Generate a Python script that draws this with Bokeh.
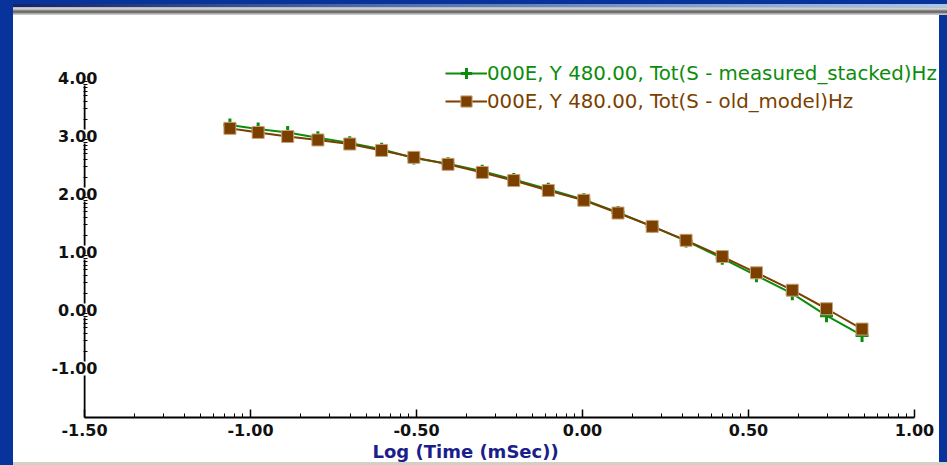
import numpy as np
from bokeh.plotting import figure
from bokeh.models import (Range1d, FixedTicker, PrintfTickFormatter, Legend,
                          LegendItem, Title, Div, ColumnDataSource)
from bokeh.layouts import row, column
from bokeh.embed import file_html
from bokeh.resources import INLINE

# ---------------- data ----------------
log_time = [-1.062, -0.977, -0.888, -0.797, -0.701, -0.605, -0.508, -0.405,
            -0.302, -0.207, -0.103, 0.004, 0.107, 0.210, 0.312, 0.421,
            0.524, 0.632, 0.735, 0.842]
measured = [3.20, 3.13, 3.07, 2.98, 2.89, 2.78, 2.63, 2.53, 2.40, 2.26,
            2.09, 1.91, 1.69, 1.45, 1.20, 0.90, 0.60, 0.29, -0.09, -0.43]
old_model = [3.14, 3.07, 3.00, 2.94, 2.87, 2.76, 2.64, 2.52, 2.38, 2.24,
             2.07, 1.90, 1.68, 1.45, 1.21, 0.93, 0.65, 0.35, 0.03, -0.32]
x_ticks = [-1.5, -1.0, -0.5, 0.0, 0.5, 1.0]
y_ticks = [-1.0, 0.0, 1.0, 2.0, 3.0, 4.0]
series_labels = ["000E, Y 480.00, Tot(S - measured_stacked)Hz",
                 "000E, Y 480.00, Tot(S - old_model)Hz"]
x_title = "Log (Time (mSec))"

GREEN = "#0c8c0c"
BROWN = "#7b3f00"
BLUE = "#08339b"
NAVY = "#1b1f8a"

# axis extents (the drawn axes) and the plotting ranges (with room for the legend)
X_AXIS = (-1.5, 1.0)
Y_AXIS = (-1.845, 4.0)
LABEL_GAP = 0.12   # half-height of the white gap the y labels cut into the axis

# log-style minor ticks inside each major interval
sub = np.log10(np.arange(2, 10))
x_minor = [t + 0.5 * s for t in x_ticks[:-1] for s in sub]
y_minor = [t + 1.0 * s for t in y_ticks[:-1] for s in sub]

src = ColumnDataSource(dict(x=log_time, m=measured, o=old_model))

p = figure(width=926, height=447, x_range=Range1d(-1.503, 1.0753),
           y_range=Range1d(-1.845, 5.086), output_backend="svg",
           toolbar_location=None, min_border_left=70, min_border_right=0,
           min_border_top=0, min_border_bottom=45,
           background_fill_color="white", border_fill_color="white",
           outline_line_color=None)
p.grid.visible = False

# y axis line, interrupted where the tick labels sit on it
seg_y0 = [Y_AXIS[0]] + [t + LABEL_GAP for t in y_ticks[:-1]]
seg_y1 = [t - LABEL_GAP for t in y_ticks]
p.segment(x0=[X_AXIS[0]] * len(seg_y0), y0=seg_y0,
          x1=[X_AXIS[0]] * len(seg_y1), y1=seg_y1,
          line_color="black", line_width=2)

# series
gl = p.line("x", "m", source=src, line_color=GREEN, line_width=2)
gm = p.scatter("x", "m", source=src, marker="cross", size=13,
               line_color=GREEN, line_width=3)
bl = p.line("x", "o", source=src, line_color=BROWN, line_width=2)
bm = p.scatter("x", "o", source=src, marker="square", size=12,
               fill_color=BROWN, line_color="#c9a27a", line_width=1)

# axes
xa = p.xaxis[0]
xa.bounds = X_AXIS
xa.ticker = FixedTicker(ticks=x_ticks, minor_ticks=x_minor)
xa.formatter = PrintfTickFormatter(format="%.2f")
xa.axis_line_width = 2
xa.axis_line_color = "black"
xa.major_tick_in = 8
xa.major_tick_out = 0
xa.minor_tick_in = 4
xa.minor_tick_out = 0
xa.major_tick_line_width = 1.5
xa.minor_tick_line_width = 1
xa.major_tick_line_color = "black"
xa.minor_tick_line_color = "black"
xa.major_label_standoff = 6
xa.major_label_text_font = "DejaVu Sans"
xa.major_label_text_font_style = "bold"
xa.major_label_text_font_size = "16px"
xa.major_label_text_color = "#111111"

ya = p.yaxis[0]
ya.bounds = Y_AXIS
ya.ticker = FixedTicker(ticks=y_ticks, minor_ticks=y_minor)
ya.formatter = PrintfTickFormatter(format="%.2f")
ya.axis_line_color = None
ya.major_tick_in = 0
ya.major_tick_out = 0
ya.minor_tick_in = 4
ya.minor_tick_out = 0
ya.minor_tick_line_width = 1
ya.minor_tick_line_color = "black"
ya.major_label_standoff = -14
ya.major_label_text_font = "DejaVu Sans"
ya.major_label_text_font_style = "bold"
ya.major_label_text_font_size = "16px"
ya.major_label_text_color = "#111111"

# x axis title, below the axis, shifted left as in the original
p.add_layout(Title(text=x_title, align="left", offset=289, standoff=0,
                   text_font="DejaVu Sans", text_font_style="bold",
                   text_font_size="18px", text_color=NAVY), "below")

# two legends, each with its own text colour
for renderers, lbl, col, vy in [([gl, gm], series_labels[0], GREEN, 330),
                                ([bl, bm], series_labels[1], BROWN, 302)]:
    lg = Legend(items=[LegendItem(label=lbl, renderers=renderers)],
                location=(362, vy), orientation="vertical",
                padding=0, margin=0, spacing=0, label_standoff=0,
                glyph_width=42, glyph_height=28, label_height=28,
                border_line_color=None, background_fill_alpha=0,
                label_text_font="DejaVu Sans", label_text_font_size="19.8px",
                label_text_color=col)
    p.add_layout(lg)

# window frame decorations
left_div = Div(text="", width=13, height=465, margin=0,
               styles={"background-color": BLUE})
top_div = Div(text="", width=934, height=15, margin=0,
              styles={"background": (
                  "linear-gradient(to bottom, %s 0px, %s 4px, rgba(0,0,0,0) 4px, "
                  "rgba(0,0,0,0) 7px, #b4b4b4 7px, #dadada 9px, #9a9a9a 10px, "
                  "#5a5a5a 12px, #8c8c8c 13px, #c8c8c8 14px, #c8c8c8 15px), "
                  "linear-gradient(to right, #12246e 0%%, #5070b0 40%%, #a8c8f0 100%%)"
                  % (BLUE, BLUE))})
right_div = Div(text="", width=8, height=447, margin=0,
                styles={"background-color": BLUE})
bottom_div = Div(text="", width=934, height=3, margin=0,
                 styles={"background-color": "#d4d0c8"})

layout = row(left_div, column(top_div, row(p, right_div), bottom_div))

open("out.html", "w").write(file_html(layout, INLINE))
